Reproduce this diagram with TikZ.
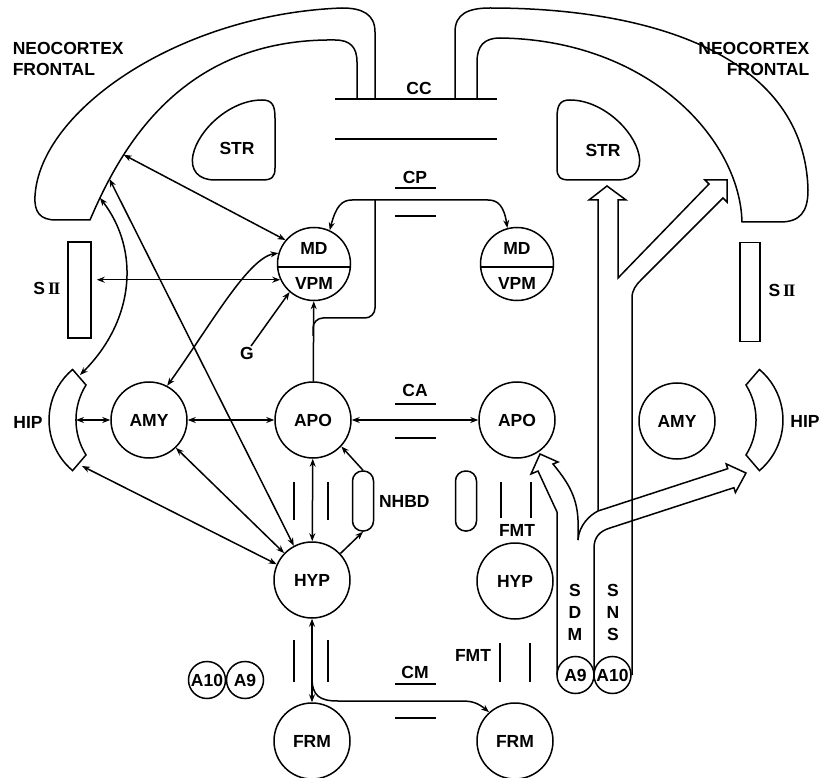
\documentclass[tikz,border=0pt]{standalone}
\usepackage{fontspec}
\setmainfont{Liberation Sans}
\newfontfamily\romfont{Liberation Serif}
\usetikzlibrary{arrows.meta,positioning}

\tikzset{
  lbl/.style={font=\bfseries\fontsize{17.5}{21}\selectfont, inner sep=0pt},
  reg/.style={lbl, draw, circle, minimum size=76pt},
  nucl/.style={lbl, draw, circle, minimum size=37pt},
  pad/.style={draw, rounded corners=10pt, minimum width=21pt, minimum height=60pt},
}

\begin{document}
\begin{tikzpicture}[x=1pt, y=-1pt, line width=1.5pt, >={Stealth[length=8pt,width=6pt]}]
\useasboundingbox (0,0) rectangle (820,778);

%cortex
\draw (375,99) -- (375,32) .. controls (375,14) and (362,8) .. (342,8)
  .. controls (180,14) and (40,110) .. (35,196) .. controls (34,212) and (40,220) .. (56,220) -- (90,220)
  .. controls (120,150) and (180,38) .. coordinate[pos=.1] (ctxA) coordinate[pos=.18] (ctxB) coordinate[pos=.28] (ctxC) (335,40)
  .. controls (350,40) and (357,47) .. (357,62) -- (357,99);
\draw (455,99) -- (455,32) .. controls (455,14) and (468,8) .. (490,8)
  .. controls (660,8) and (805,60) .. (808,190) .. controls (808,212) and (800,222) .. (780,222) -- (742,222)
  .. controls (740,140) and (650,40) .. (500,38) .. controls (484,38) and (477,46) .. (477,62) -- (477,99);
\draw (335,99) -- (497,99);
\draw (335,139) -- (497,139);
\node[lbl] at (419,88) {CC};
\node[lbl, align=left, anchor=west] at (12,59) {NEOCORTEX\\FRONTAL};
\node[lbl, align=right, anchor=east] at (810,59) {NEOCORTEX\\FRONTAL};

%STR and HIP, both sides
\foreach \s/\m in {0/1,832/-1}{
\begin{scope}[xshift=\s pt, xscale=\m]
\draw (262,100) .. controls (272,100) and (275,105) .. (275,118) -- (275,168) .. controls (275,177) and (272,180) .. (262,180)
  -- (215,180) .. controls (198,180) and (190,170) .. (193,155) .. controls (198,130) and (230,100) .. (262,100) -- cycle;
\draw (72.6,470.6) arc[start angle=130, end angle=230, radius=66] -- (86,385) arc[start angle=212, end angle=148, radius=66] -- cycle;
\end{scope}}
\node[lbl] at (237,148) {STR};
\node[lbl] at (603,150) {STR};
\node[lbl] at (28,422) {HIP};
\node[lbl] at (805,421) {HIP};
\coordinate (hipT) at (80,375);
\coordinate (hipB) at (82,466);
\coordinate (hipM) at (76,420);

\node[draw, minimum width=23pt, minimum height=96pt] (sii) at (79.5,290) {};
\node[draw, minimum width=20pt, minimum height=99pt] (sii2) at (750,292) {};
\node[lbl] at (47,288) {S\,{\romfont I\kern-1.2pt I}};
\node[lbl] at (782,290) {S\,{\romfont I\kern-1.2pt I}};

%nuclei
\node[reg, minimum size=73pt] (MD) at (314,264) {};
\node[reg, minimum size=73pt] (MD2) at (517,264) {};
\draw (MD.185) -- (MD.-5);
\draw (MD2.185) -- (MD2.-5);
\node[lbl] at (314,248) {MD};
\node[lbl] at (314,283) {VPM};
\node[lbl] at (517,248) {MD};
\node[lbl] at (517,283) {VPM};
\node[reg] (AMY) at (149,420) {AMY};
\node[reg] (APO) at (313,420) {APO};
\node[reg] (APO2) at (517,420) {APO};
\node[reg] (AMY2) at (677,421) {AMY};
\node[reg] (HYP) at (312,580) {HYP};
\node[reg] (HYP2) at (515,581) {HYP};
\node[reg] (FRM) at (312,741) {FRM};
\node[reg] (FRM2) at (515,741) {FRM};
\node[pad] (NHBD) at (363,501) {};
\node[lbl, right=4pt of NHBD] {NHBD};
\node[pad] (pad2) at (466,501) {};
\node[nucl] (A10) at (207,680) {A10};
\node[nucl] (A9) at (245,680) {A9};
\node[nucl] (A9r) at (575.5,675) {A9};
\node[nucl] (A10r) at (612.5,675) {A10};
\node[lbl] (G) at (247,353) {G};

%commissures
\foreach \t/\y/\ya/\yb in {CP/177/188/216, CA/390/404/438, CM/672/684/718}{
  \node[lbl] at (415,\y) {\t};
  \draw (395,\ya) -- (436,\ya);
  \draw (395,\yb) -- (436,\yb);}
\foreach \x/\ya/\yb in {294/482/520, 328/482/520, 501/482/518, 531/482/518, 294/640/682, 328/640/682, 500/643/682, 530/643/682}
  \draw (\x,\ya) -- (\x,\yb);
\node[lbl] at (517,530) {FMT};
\node[lbl] at (473,655) {FMT};

%dopamine pathways
\draw (598,511) -- (598,200) -- (589,200) -- (607,186) -- (626,200) -- (618,200) -- (618,278) -- (709,184) -- (705,180)
  -- (727,180) -- (727,202) -- (723,198) -- (641,280) .. controls (636,285) and (632,290) .. (632,298) -- (632,675);
\draw (598,511) -- (727.7,468.7) -- (726.2,463.9) -- (746,473) -- (735.4,492.5) -- (733.9,487.7) -- (610,528)
  .. controls (600,531) and (594,537) .. (594,548) -- (594,675);
\draw (598,511) .. controls (590,515) and (579,525) .. (578,540);
\draw (557,675) -- (557,512) -- (538,471) -- (531,474) -- (540,454) -- (558,462) -- (553,464)
  .. controls (566,480) and (577,495) .. (578,520) -- (578,540);
\foreach \c [count=\i] in {S,D,M} \node[lbl] at (575,568+22*\i) {\c};
\foreach \c [count=\i] in {S,N,S} \node[lbl] at (613,568+22*\i) {\c};

%connections
\draw[<->] (ctxC) -- (MD.140);
\draw[<->] (ctxB) -- (HYP.118);
\draw[<->] (ctxA) .. controls (140,250) and (135,320) .. (hipT);
\draw[<->, shorten <=5pt] (sii.east |- MD.205) -- (MD.205);
\draw[<->] (AMY.62) .. controls (210,326) and (248,258) .. (MD.163);
\draw[->] (G.60) -- (MD.229);
\draw[<->] (hipM) -- (AMY.west);
\draw[<->] (AMY) -- (APO);
\draw[<->] (APO) -- (APO2);
\draw[->] (APO) -- (MD);
\draw[<->] (APO) -- (HYP);
\draw[->] (NHBD.north) -- (APO.317);
\draw[->] (HYP.43) -- (NHBD.south);
\draw[<->] (hipB) -- (HYP.156);
\draw[<->] (AMY.314) -- (HYP.136);
\draw[<->] (HYP) -- (FRM);
\coordinate (apj) at (313,336);
\coordinate (cpj) at (375,200);
\coordinate (cmj) at (312,678);
\draw[rounded corners=10pt] (apj) |- (375,318) -- (cpj);
\draw[->] (cpj) -- (352,200) .. controls (342,200) and (336,206) .. (MD.65);
\draw[->] (cpj) -- (488,200) .. controls (498,200) and (504,206) .. (MD2.105);
\draw[->] (cmj) .. controls (312,696) and (320,701) .. (338,701) -- (462,701) .. controls (472,701) and (478,703) .. (FRM2.132);

\end{tikzpicture}
\end{document}
